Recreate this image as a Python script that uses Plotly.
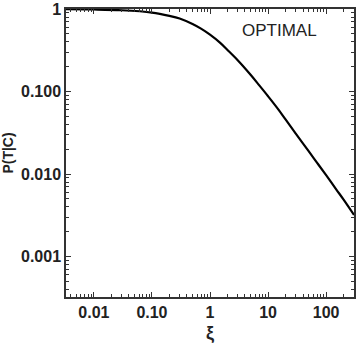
import plotly.graph_objects as go

# valores (log-log)
xi = [0.0033, 0.01, 0.03, 0.1, 0.2, 0.3, 0.5, 0.7, 1.0, 1.5, 2.0, 3.0,
      5.0, 7.0, 10.0, 15.0, 20.0, 30.0, 50.0, 70.0, 100.0, 150.0, 200.0, 302.0]
p_tc = [0.997, 0.99, 0.97, 0.91, 0.83, 0.77, 0.66, 0.58, 0.49, 0.39, 0.32, 0.24,
        0.16, 0.12, 0.088, 0.061, 0.046, 0.031, 0.019, 0.0137, 0.0097, 0.0065, 0.0049, 0.0032]

x_ticks = [0.01, 0.1, 1, 10, 100]
x_tick_labels = ["0.01", "0.10", "1", "10", "100"]
y_ticks = [0.001, 0.01, 0.1, 1]
y_tick_labels = ["0.001", "0.010", "0.100", "1"]

fig = go.Figure(go.Scatter(
    x=xi, y=p_tc, mode="lines",
    line=dict(color="black", width=2.2, shape="spline"),
    showlegend=False,
))

axis_style = dict(
    type="log",
    showline=True, linecolor="#333", linewidth=1.5, mirror="allticks",
    ticks="inside", ticklen=5, tickwidth=1, tickcolor="#333",
    minor=dict(ticks="inside", ticklen=3, tickwidth=1, tickcolor="#333", dtick="D1", showgrid=False),
    showgrid=False, zeroline=False, ticklabeloverflow="allow",
    tickfont=dict(family="Liberation Sans", size=16, color="#222", weight="bold"),
)

fig.update_xaxes(axis_style, range=[-2.48, 2.48], tickvals=x_ticks, ticktext=x_tick_labels,
                 title=dict(text="ξ", font=dict(family="Liberation Sans", size=18, color="#222", weight="bold"),
                            standoff=6))
fig.update_yaxes(axis_style, range=[-3.49, 0.002], tickvals=y_ticks, ticktext=y_tick_labels,
                 title=dict(text="P(T|C)", font=dict(family="Liberation Sans", size=14, color="#222", weight="bold"),
                            standoff=6))

fig.add_annotation(x=0.74, y=0.925, xref="paper", yref="paper", xanchor="center", yanchor="middle",
                   text="OPTIMAL", showarrow=False,
                   font=dict(family="Liberation Sans", size=17, color="#222", weight="normal"))

fig.update_layout(
    width=357, height=344,
    margin=dict(l=66, r=1, t=5, b=47),
    paper_bgcolor="white", plot_bgcolor="white",
)

fig.write_html("out.html", config={"displayModeBar": False},
               post_script="document.body.style.margin='0';")
